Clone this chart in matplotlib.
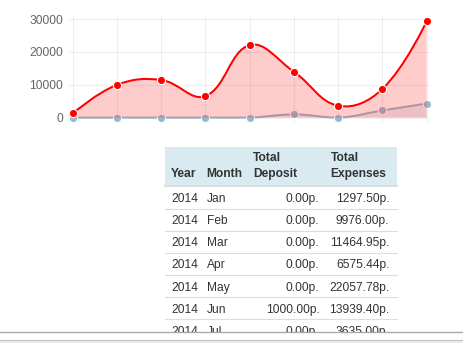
import numpy as np
import matplotlib
matplotlib.use("Agg")
import matplotlib.pyplot as plt
from matplotlib.path import Path
from matplotlib.patches import PathPatch, Rectangle

plt.rcParams['font.family'] = ['Liberation Sans', 'DejaVu Sans']

# ---------------- data ----------------
years = [2014, 2014, 2014, 2014, 2014, 2014, 2014, 2014, 2014]
months = ['Jan', 'Feb', 'Mar', 'Apr', 'May', 'Jun', 'Jul', 'Aug', 'Sep']
deposits = [0.00, 0.00, 0.00, 0.00, 0.00, 1000.00, 0.00, 2200.00, 4300.00]
expenses = [1297.50, 9976.00, 11464.95, 6575.44, 22057.78, 13939.40, 3635.00, 8750.00, 29300.00]
y_ticks = [0, 10000, 20000, 30000]
header_top = ['', '', 'Total', 'Total']
header_bot = ['Year', 'Month', 'Deposit', 'Expenses']

W, H = 463, 343
fig = plt.figure(figsize=(W / 100, H / 100), dpi=100)

# ---------------- chart ----------------
ax = fig.add_axes([72.7 / W, 1 - 117.7 / H, 354 / W, 98.7 / H])
x = np.arange(len(months))
ax.set_xlim(0, len(months) - 1)
ax.set_ylim(y_ticks[0], y_ticks[-1])
for s in ax.spines.values():
    s.set_visible(False)
ax.set_xticks([])
ax.set_yticks(y_ticks)
ax.set_yticklabels([str(v) for v in y_ticks])
ax.tick_params(axis='y', length=0, pad=7.0, labelsize=8.64, labelcolor='#666666')
ax.patch.set_visible(False)

px_x = (len(months) - 1) / 354.0
px_y = (y_ticks[-1] - y_ticks[0]) / 98.7
grid_c = (0, 0, 0, 0.06)
ax.hlines(y_ticks, -4.7 * px_x, (len(months) - 1) + 3.3 * px_x, colors=[grid_c],
          linewidth=0.8, clip_on=False, zorder=0)
ax.vlines(x, y_ticks[-1] + 3 * px_y, -4.5 * px_y, colors=[grid_c],
          linewidth=0.8, clip_on=False, zorder=0)


def spline_paths(xs, ys, t=0.4):
    pts = ax.transData.transform(np.column_stack([xs, ys]))
    top = ax.transData.transform((0, y_ticks[-1]))[1]
    bot = ax.transData.transform((0, y_ticks[0]))[1]
    n = len(pts)
    inner, outer = [], []
    for i in range(n):
        tt = t if 0 < i < n - 1 else 0.0
        p0 = pts[i - 1] if i > 0 else pts[i]
        p1 = pts[i]
        p2 = pts[i + 1] if i < n - 1 else pts[i]
        d01 = np.hypot(*(p1 - p0))
        d12 = np.hypot(*(p2 - p1))
        s = d01 + d12
        fa = tt * d01 / s if s else 0
        fb = tt * d12 / s if s else 0
        inn = p1 - fa * (p2 - p0)
        out = p1 + fb * (p2 - p0)
        inn[1] = min(max(inn[1], bot), top)
        out[1] = min(max(out[1], bot), top)
        inner.append(inn)
        outer.append(out)
    verts = [pts[0]]
    codes = [Path.MOVETO]
    for i in range(1, n):
        verts += [outer[i - 1], inner[i], pts[i]]
        codes += [Path.CURVE4] * 3
    inv = ax.transData.inverted()
    line_verts = inv.transform(np.array(verts))
    line = Path(line_verts, codes)
    fill_verts = np.vstack([line_verts, [[xs[-1], y_ticks[0]], [xs[0], y_ticks[0]], [xs[0], y_ticks[0]]]])
    fill_codes = codes + [Path.LINETO, Path.LINETO, Path.CLOSEPOLY]
    fill = Path(fill_verts, fill_codes)
    return line, fill


def draw_dataset(vals, stroke, fill_rgba, point, z):
    line, fill = spline_paths(x, vals)
    ax.add_patch(PathPatch(line, fill=False, edgecolor=stroke, linewidth=1.45,
                           clip_on=False, zorder=z, capstyle='round', joinstyle='round'))
    ax.add_patch(PathPatch(fill, facecolor=fill_rgba, edgecolor='none',
                           clip_on=False, zorder=z + 0.1))
    ax.plot(x, vals, linestyle='none', marker='o', markersize=5.9,
            markerfacecolor=point, markeredgecolor='white', markeredgewidth=0.75,
            clip_on=False, zorder=z + 0.2)


draw_dataset(deposits, (151 / 255, 187 / 255, 205 / 255, 1.0),
             (151 / 255, 187 / 255, 205 / 255, 0.2), (151 / 255, 187 / 255, 205 / 255), 2)
draw_dataset(expenses, '#ff0000', (1, 0, 0, 0.2), '#ff0000', 3)

# ---------------- table ----------------
clip_h = 331.5
ax2 = fig.add_axes([0, 1 - clip_h / H, 1, clip_h / H])
ax2.set_xlim(0, W)
ax2.set_ylim(clip_h, 0)
ax2.axis('off')

tx_left, tx_right = 164.5, 396.7
ax2.add_patch(Rectangle((tx_left, 147), tx_right - tx_left, 38.5, facecolor='#d9eaf0',
                        edgecolor='none'))
ax2.plot([tx_left, tx_right], [186.0, 186.0], color='#dddddd', linewidth=1.5)

fs = 8.64
col_x = [171.0, 206.7, 253.3, 330.7]
for cx, t1, t2 in zip(col_x, header_top, header_bot):
    if t1:
        ax2.text(cx, 160.7, t1, fontsize=fs, fontweight='bold', color='#333333',
                 ha='left', va='baseline', clip_on=True)
    ax2.text(cx, 176.7, t2, fontsize=fs, fontweight='bold', color='#333333',
             ha='left', va='baseline', clip_on=True)

row_top0 = 186.8
row_h = 22.1
for i, (yr, mo, dp, ex) in enumerate(zip(years, months, deposits, expenses)):
    top = row_top0 + i * row_h
    if top > clip_h:
        break
    base = top + 15.3
    ax2.text(171.0, base, str(yr), fontsize=fs, color='#333333', ha='left',
             va='baseline', clip_on=True)
    ax2.text(206.7, base, mo, fontsize=fs, color='#333333', ha='left',
             va='baseline', clip_on=True)
    ax2.text(319.5, base, f"{dp:.2f}p.", fontsize=fs, color='#333333', ha='right',
             va='baseline', clip_on=True)
    ax2.text(389.5, base, f"{ex:.2f}p.", fontsize=fs, color='#333333', ha='right',
             va='baseline', clip_on=True)
    yl = top + row_h
    if yl < clip_h:
        ax2.plot([tx_left, tx_right], [yl, yl], color='#dddddd', linewidth=0.8)

# ---------------- bottom bars ----------------
ax3 = fig.add_axes([0, 0, 1, 1], zorder=-1)
ax3.set_xlim(0, W)
ax3.set_ylim(H, 0)
ax3.axis('off')
ax3.add_patch(Rectangle((0, 340), W, 3, facecolor='#ececec', edgecolor='none'))
ax3.plot([0, W], [332.3, 332.3], color='#aaaaaa', linewidth=1.0)
ax3.plot([0, W], [340.3, 340.3], color='#c4c4c4', linewidth=0.9)

fig.savefig('out.png', dpi=100)
